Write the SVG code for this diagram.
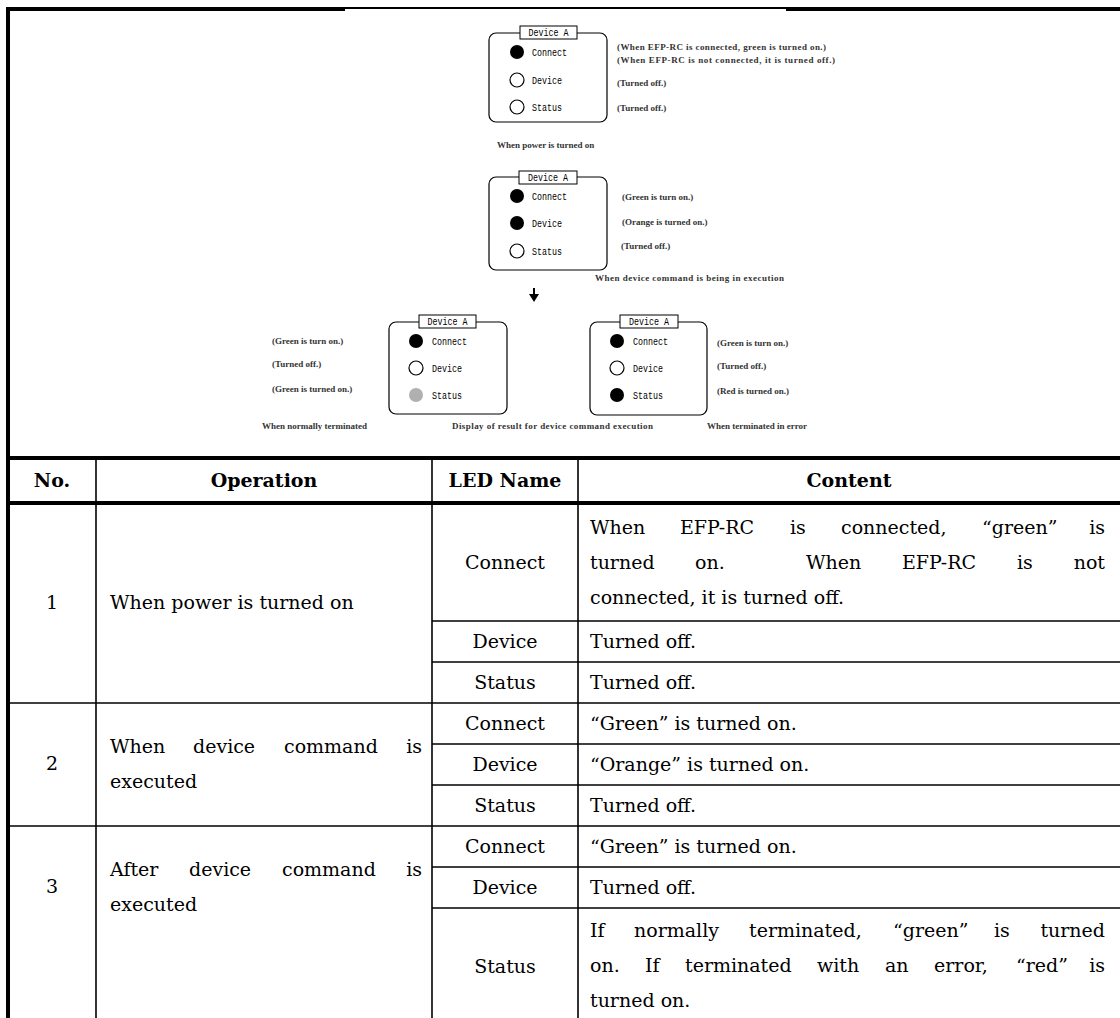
<svg xmlns="http://www.w3.org/2000/svg" width="1120" height="1018" viewBox="0 0 1120 1018">
<style>
.box{fill:#fff;stroke:#000;stroke-width:1.2}
.lbl{fill:#fff;stroke:#000;stroke-width:1}
.mono{font-family:"Liberation Mono","DejaVu Sans Mono",monospace;font-size:10px;fill:#000}
.note{font-family:"Liberation Serif",serif;font-size:9px;font-weight:bold;fill:#333}
.on{fill:#000}
.off{fill:#fff;stroke:#000;stroke-width:1.2}
.gray{fill:#b0b0b0}
.cell{font-family:"DejaVu Serif","Liberation Serif",serif;font-size:19px;fill:#000}
.hd{font-family:"DejaVu Serif","Liberation Serif",serif;font-size:19px;font-weight:bold;fill:#000}
.c{text-anchor:middle}
.e{text-anchor:end}
.thick{stroke:#000;stroke-width:4;fill:none}
.thin{stroke:#000;stroke-width:1.6;fill:none}
</style>
<rect width="1120" height="1018" fill="#fff"/>

<g id="frame">
<line class="thick" x1="6" y1="9" x2="345" y2="9"/>
<line stroke="#000" stroke-width="2" x1="345" y1="8" x2="786" y2="8"/>
<line class="thick" x1="786" y1="9" x2="1120" y2="9"/>
<line class="thick" x1="8" y1="7" x2="8" y2="1018"/>
</g>

<g id="state-power-on">
<rect class="box" x="489" y="33" width="118" height="89" rx="7"/>
<rect class="lbl" x="520" y="26" width="57" height="13"/>
<text class="mono c" x="548.5" y="36" textLength="40" lengthAdjust="spacingAndGlyphs">Device A</text>
<circle class="on" cx="517" cy="52" r="7"/>
<circle class="off" cx="517" cy="80" r="7"/>
<circle class="off" cx="517" cy="107" r="7"/>
<text class="mono" x="532" y="55.5" textLength="35" lengthAdjust="spacingAndGlyphs">Connect</text>
<text class="mono" x="532" y="83.5" textLength="30" lengthAdjust="spacingAndGlyphs">Device</text>
<text class="mono" x="532" y="110.5" textLength="30" lengthAdjust="spacingAndGlyphs">Status</text>
<text class="note" x="617" y="50" textLength="209" lengthAdjust="spacing">(When EFP-RC is connected, green is turned on.)</text>
<text class="note" x="617" y="63" textLength="218" lengthAdjust="spacing">(When EFP-RC is not connected, it is turned off.)</text>
<text class="note" x="617" y="86">(Turned off.)</text>
<text class="note" x="617" y="111">(Turned off.)</text>
<text class="note" x="497" y="148">When power is turned on</text>
</g>

<g id="state-executing">
<rect class="box" x="489" y="177" width="118" height="93" rx="7"/>
<rect class="lbl" x="519" y="171" width="58" height="13"/>
<text class="mono c" x="548" y="181" textLength="40" lengthAdjust="spacingAndGlyphs">Device A</text>
<circle class="on" cx="517" cy="196" r="7"/>
<circle class="on" cx="517" cy="223" r="7"/>
<circle class="off" cx="517" cy="251" r="7"/>
<text class="mono" x="532" y="199.5" textLength="35" lengthAdjust="spacingAndGlyphs">Connect</text>
<text class="mono" x="532" y="226.5" textLength="30" lengthAdjust="spacingAndGlyphs">Device</text>
<text class="mono" x="532" y="254.5" textLength="30" lengthAdjust="spacingAndGlyphs">Status</text>
<text class="note" x="622" y="200">(Green is turn on.)</text>
<text class="note" x="622" y="225">(Orange is turned on.)</text>
<text class="note" x="621" y="249">(Turned off.)</text>
<text class="note" x="595" y="281" textLength="189" lengthAdjust="spacing">When device command is being in execution</text>
</g>

<g id="connectors">
<line x1="534" y1="288" x2="534" y2="295" stroke="#000" stroke-width="2"/>
<polygon points="529,294 539,294 534,302" fill="#000"/>
</g>

<g id="state-normal-end">
<rect class="box" x="389" y="322" width="118" height="92" rx="7"/>
<rect class="lbl" x="419" y="315" width="57" height="13"/>
<text class="mono c" x="447.5" y="325" textLength="40" lengthAdjust="spacingAndGlyphs">Device A</text>
<circle class="on" cx="416" cy="341" r="7"/>
<circle class="off" cx="416" cy="368" r="7"/>
<circle class="gray" cx="416" cy="395" r="7"/>
<text class="mono" x="432" y="344.5" textLength="35" lengthAdjust="spacingAndGlyphs">Connect</text>
<text class="mono" x="432" y="371.5" textLength="30" lengthAdjust="spacingAndGlyphs">Device</text>
<text class="mono" x="432" y="398.5" textLength="30" lengthAdjust="spacingAndGlyphs">Status</text>
<text class="note" x="272" y="344">(Green is turn on.)</text>
<text class="note" x="272" y="367">(Turned off.)</text>
<text class="note" x="272" y="392">(Green is turned on.)</text>
<text class="note" x="262" y="429">When normally terminated</text>
<text class="note" x="452" y="429" textLength="201" lengthAdjust="spacing">Display of result for device command execution</text>
</g>

<g id="state-error-end">
<rect class="box" x="590" y="322" width="117" height="93" rx="7"/>
<rect class="lbl" x="620" y="315" width="58" height="13"/>
<text class="mono c" x="649" y="325" textLength="40" lengthAdjust="spacingAndGlyphs">Device A</text>
<circle class="on" cx="617" cy="341" r="7"/>
<circle class="off" cx="617" cy="368" r="7"/>
<circle class="on" cx="617" cy="395" r="7"/>
<text class="mono" x="633" y="344.5" textLength="35" lengthAdjust="spacingAndGlyphs">Connect</text>
<text class="mono" x="633" y="371.5" textLength="30" lengthAdjust="spacingAndGlyphs">Device</text>
<text class="mono" x="633" y="398.5" textLength="30" lengthAdjust="spacingAndGlyphs">Status</text>
<text class="note" x="717" y="346">(Green is turn on.)</text>
<text class="note" x="717" y="369">(Turned off.)</text>
<text class="note" x="717" y="394">(Red is turned on.)</text>
<text class="note" x="707" y="429">When terminated in error</text>
</g>

<g id="table-grid">
<line class="thick" x1="6" y1="458" x2="1120" y2="458"/>
<line class="thick" x1="6" y1="503" x2="1120" y2="503"/>
<line class="thin" x1="96" y1="458" x2="96" y2="1018"/>
<line class="thin" x1="432" y1="458" x2="432" y2="1018"/>
<line class="thin" x1="578" y1="458" x2="578" y2="1018"/>
<line class="thin" x1="432" y1="621" x2="1120" y2="621"/>
<line class="thin" x1="432" y1="662" x2="1120" y2="662"/>
<line class="thin" x1="8" y1="703" x2="1120" y2="703"/>
<line class="thin" x1="432" y1="744" x2="1120" y2="744"/>
<line class="thin" x1="432" y1="785" x2="1120" y2="785"/>
<line class="thin" x1="8" y1="826" x2="1120" y2="826"/>
<line class="thin" x1="432" y1="867" x2="1120" y2="867"/>
<line class="thin" x1="432" y1="908" x2="1120" y2="908"/>
</g>

<g id="table-header">
<text class="hd c" x="52" y="487">No.</text>
<text class="hd c" x="264" y="487">Operation</text>
<text class="hd c" x="505" y="487">LED Name</text>
<text class="hd c" x="849" y="487">Content</text>
</g>

<g id="row-1">
<text class="cell c" x="52" y="609">1</text>
<text class="cell" x="110" y="609">When power is turned on</text>
<text class="cell c" x="505" y="569">Connect</text>
<text class="cell c" x="505" y="648">Device</text>
<text class="cell c" x="505" y="689">Status</text>
<text class="cell" y="534"><tspan x="590">When</tspan><tspan x="680">EFP-RC</tspan><tspan x="790">is</tspan><tspan x="841">connected,</tspan><tspan x="982">“green”</tspan></text>
<text class="cell e" x="1105" y="534">is</text>
<text class="cell" y="569"><tspan x="590">turned</tspan><tspan x="695">on.</tspan><tspan x="806">When</tspan><tspan x="902">EFP-RC</tspan><tspan x="1017">is</tspan></text>
<text class="cell e" x="1105" y="569">not</text>
<text class="cell" x="590" y="604">connected, it is turned off.</text>
<text class="cell" x="590" y="648">Turned off.</text>
<text class="cell" x="590" y="689">Turned off.</text>
</g>

<g id="row-2">
<text class="cell c" x="52" y="770">2</text>
<text class="cell" y="753"><tspan x="110">When</tspan><tspan x="193">device</tspan><tspan x="284">command</tspan></text>
<text class="cell e" x="422" y="753">is</text>
<text class="cell" x="110" y="788">executed</text>
<text class="cell c" x="505" y="730">Connect</text>
<text class="cell c" x="505" y="771">Device</text>
<text class="cell c" x="505" y="812">Status</text>
<text class="cell" x="590" y="730">“Green” is turned on.</text>
<text class="cell" x="590" y="771">“Orange” is turned on.</text>
<text class="cell" x="590" y="812">Turned off.</text>
</g>

<g id="row-3">
<text class="cell c" x="52" y="893">3</text>
<text class="cell" y="876"><tspan x="110">After</tspan><tspan x="189">device</tspan><tspan x="282">command</tspan></text>
<text class="cell e" x="422" y="876">is</text>
<text class="cell" x="110" y="911">executed</text>
<text class="cell c" x="505" y="853">Connect</text>
<text class="cell c" x="505" y="894">Device</text>
<text class="cell c" x="505" y="973">Status</text>
<text class="cell" x="590" y="853">“Green” is turned on.</text>
<text class="cell" x="590" y="894">Turned off.</text>
<text class="cell" y="937"><tspan x="590">If</tspan><tspan x="634">normally</tspan><tspan x="749">terminated,</tspan><tspan x="893">“green”</tspan><tspan x="994">is</tspan></text>
<text class="cell e" x="1105" y="937">turned</text>
<text class="cell" y="972"><tspan x="590">on.</tspan><tspan x="645">If</tspan><tspan x="685">terminated</tspan><tspan x="817">with</tspan><tspan x="885">an</tspan><tspan x="934">error,</tspan><tspan x="1016">“red”</tspan></text>
<text class="cell e" x="1105" y="972">is</text>
<text class="cell" x="590" y="1007">turned on.</text>
</g>
</svg>
